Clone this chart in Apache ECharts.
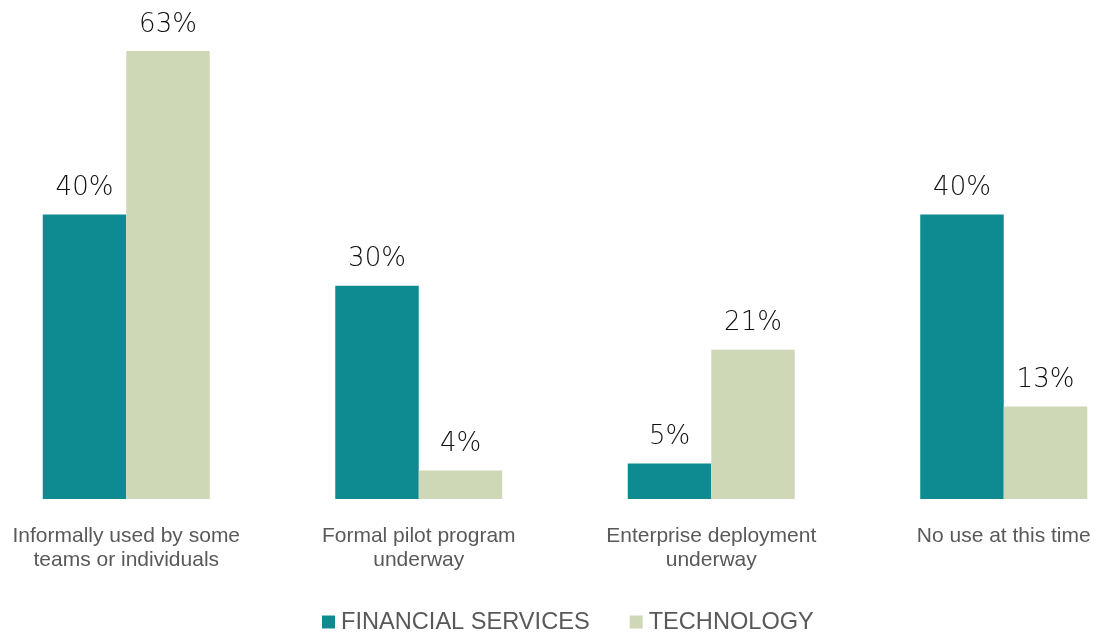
<!DOCTYPE html>
<html>
<head>
<meta charset="utf-8">
<script src="https://cdn.jsdelivr.net/npm/echarts@6/dist/echarts.min.js"></script>
<style>
  html, body { margin: 0; padding: 0; background: #ffffff; overflow: hidden; width: 1096px; height: 633px; }
  /* the outer category bands run past both edges of the page */
  #chart { position: absolute; left: -20px; top: 0; width: 1170px; height: 633px; }
</style>
</head>
<body>
<div id="chart"></div>
<script>
// Stage of adoption, share of respondents by industry
const categories = [
  'Informally used by some\nteams or individuals',
  'Formal pilot program\nunderway',
  'Enterprise deployment\nunderway',
  'No use at this time'
];
const seriesNames = ['FINANCIAL SERVICES', 'TECHNOLOGY'];
const financialServices = [40, 30, 5, 40];
const technology = [63, 4, 21, 13];

const colors = ['#0E8B91', '#CFD8B6'];

const chart = echarts.init(document.getElementById('chart'), null, { renderer: 'canvas' });

const valueLabel = {
  show: true,
  position: 'top',
  distance: 13,
  formatter: '{c}%',
  color: '#111111',
  fontFamily: 'DejaVu Sans',
  fontWeight: 300,
  fontSize: 26
};

chart.setOption({
  animation: false,
  backgroundColor: '#ffffff',
  color: colors,
  grid: { left: 0, right: 0, top: 51, bottom: 134, containLabel: false },
  legend: {
    data: seriesNames,
    left: 337,
    top: 605,
    icon: 'rect',
    itemWidth: 13,
    itemHeight: 13,
    itemGap: 40,
    textStyle: {
      color: '#595959',
      fontFamily: 'Liberation Sans, Arial, sans-serif',
      fontSize: 23.6,
      padding: [0, 0, 0, 1]
    }
  },
  xAxis: {
    type: 'category',
    data: categories,
    axisLine: { show: false },
    axisTick: { show: false },
    splitLine: { show: false },
    axisLabel: {
      interval: 0,
      margin: 25,
      color: '#595959',
      fontFamily: 'Liberation Sans, Arial, sans-serif',
      fontSize: 21,
      lineHeight: 24,
      align: 'center'
    }
  },
  yAxis: {
    type: 'value',
    min: 0,
    max: 63,
    show: false,
    splitLine: { show: false }
  },
  series: [
    {
      name: seriesNames[0],
      type: 'bar',
      data: financialServices,
      barWidth: 83.5,
      barGap: '0%',
      label: valueLabel
    },
    {
      name: seriesNames[1],
      type: 'bar',
      data: technology,
      barWidth: 83.5,
      barGap: '0%',
      label: valueLabel
    }
  ]
});
</script>
</body>
</html>
